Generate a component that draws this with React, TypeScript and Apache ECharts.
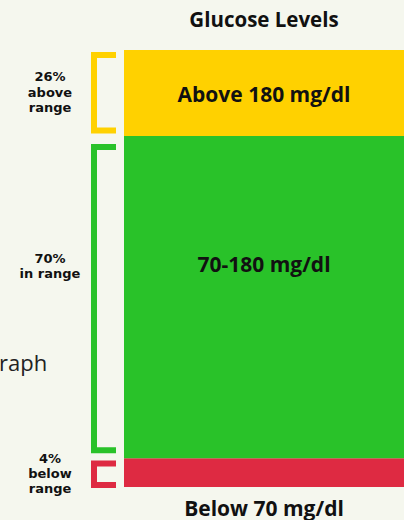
import React, { useEffect, useRef } from "react";
import * as echarts from "echarts";

const segmentNames = ["Below 70 mg/dl", "70-180 mg/dl", "Above 180 mg/dl"];
const segmentHeights = [6.6, 73.7, 19.7];
const percentLabels = ["4%", "70%", "26%"];
const rangeLabels = ["below\nrange", "in range", "above\nrange"];
const chartTitle = "Glucose Levels";
const sideText = "raph";

const COLORS = ["#DE2A42", "#29C229", "#FFD100"];
const BG = "#F5F7EE";
const INK = "#111111";
const FONT = '"Open Sans"';
const SIDE_FONT = '"DejaVu Sans"';
// pixel insets of each bracket from its segment [top, bottom] (style)
const BRACKET_INSETS = [
  [2.3, -1],
  [8, 5],
  [2, 2.7],
];
const SIDE_LABEL_OFFSET = [1, -31, -1];

export default function App() {
  const ref = useRef<HTMLDivElement>(null);
  useEffect(() => {
    if (!ref.current) return;
    const chart = echarts.init(ref.current, null, { renderer: "svg" });
    const starts: number[] = [];
    let acc = 0;
    segmentHeights.forEach((h) => {
      starts.push(acc);
      acc += h;
    });
    const total = acc;
    const bracketData = segmentHeights.map((h, i) => [0, starts[i], starts[i] + h, i]);

    const barSeries = segmentHeights.map((h, i) => {
      let label: any = {
        show: true,
        formatter: segmentNames[i],
        color: INK,
        fontFamily: FONT,
        fontWeight: "bold",
        fontSize: 21,
        position: "inside",
      };
      if (i === 0) {
        label = { ...label, position: "bottom", distance: 10 };
      } else if (i === 1) {
        label = { ...label, offset: [0, -33] };
      } else {
        label = { ...label, offset: [0, 1] };
      }
      return {
        type: "bar",
        name: segmentNames[i],
        stack: "total",
        data: [h],
        barWidth: "100%",
        itemStyle: { color: COLORS[i] },
        label,
        silent: true,
      };
    });

    chart.setOption({
      animation: false,
      backgroundColor: BG,
      grid: { left: 124, right: 0, top: 50, bottom: 33 },
      xAxis: { type: "category", data: ["glucose"], show: false },
      yAxis: { type: "value", min: 0, max: total, show: false },
      graphic: [
        {
          type: "text",
          x: 264,
          y: 19,
          style: {
            text: chartTitle,
            font: 'bold 20.5px "Open Sans"',
            fill: INK,
            align: "center",
            verticalAlign: "middle",
          },
        },
        {
          type: "text",
          x: -1,
          y: 362,
          style: {
            text: sideText,
            font: '400 22px "Open Sans"',
            fill: "#222222",
            verticalAlign: "middle",
          },
        },
      ],
      series: [
        ...barSeries,
        {
          type: "custom",
          data: bracketData,
          silent: true,
          clip: false,
          renderItem: (params: any, api: any) => {
            const s = api.value(1);
            const e = api.value(2);
            const idx = api.value(3);
            const pTop = api.coord([0, e]);
            const pBot = api.coord([0, s]);
            const bw = api.size([1, 0])[0];
            const left = pTop[0] - bw / 2;
            const [it, ib] = BRACKET_INSETS[idx];
            const top = pTop[1] + it;
            const bot = pBot[1] - ib;
            const xv = left - 30;
            const xe = left - 8;
            const lw = 6;
            const mid = (pTop[1] + pBot[1]) / 2 + SIDE_LABEL_OFFSET[idx];
            return {
              type: "group",
              children: [
                {
                  type: "polyline",
                  shape: {
                    points: [
                      [xe, top + lw / 2],
                      [xv, top + lw / 2],
                      [xv, bot - lw / 2],
                      [xe, bot - lw / 2],
                    ],
                  },
                  style: {
                    stroke: COLORS[idx],
                    lineWidth: lw,
                    fill: "none",
                    lineJoin: "miter",
                    lineCap: "butt",
                  },
                },
                {
                  type: "text",
                  style: {
                    text: percentLabels[idx] + "\n" + rangeLabels[idx],
                    x: left - 74,
                    y: mid,
                    align: "center",
                    verticalAlign: "middle",
                    fontFamily: SIDE_FONT,
                    fontWeight: "bold",
                    fontSize: 13,
                    lineHeight: 15.2,
                    fill: INK,
                  },
                },
              ],
            };
          },
        },
      ],
    });
    return () => chart.dispose();
  }, []);
  return (
    <div
      ref={ref}
      style={{ position: "fixed", left: 0, top: 0, width: 404, height: 520 }}
    />
  );
}
